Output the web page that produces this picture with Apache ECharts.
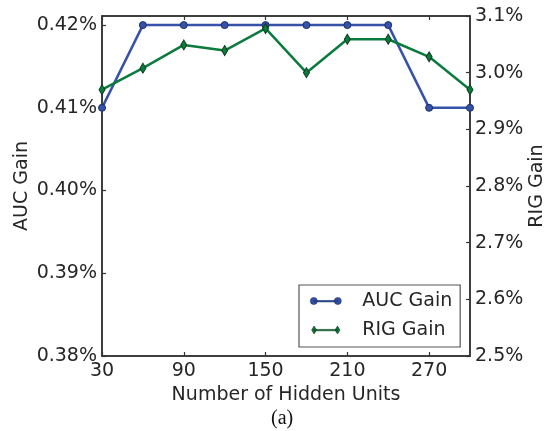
<!DOCTYPE html>
<html>
<head>
<meta charset="utf-8">
<script src="https://cdn.jsdelivr.net/npm/echarts@6/dist/echarts.min.js"></script>
<style>
  html, body { margin: 0; padding: 0; background: #fff; }
  #chart { width: 550px; height: 431px; }
</style>
</head>
<body>
<div id="chart"></div>
<script>
// Number of hidden units (x axis)
const hiddenUnits = ['30', '60', '90', '120', '150', '180', '210', '240', '270', '300'];
// AUC gain in percent (left axis)
const aucGain = [0.41, 0.42, 0.42, 0.42, 0.42, 0.42, 0.42, 0.42, 0.41, 0.41];
// RIG gain in percent (right axis)
const rigGain = [2.970, 3.008, 3.049, 3.039, 3.078, 3.000, 3.059, 3.059, 3.028, 2.970];

const FONT = 'DejaVu Sans';
const TEXT = '#262626';
const AXIS = '#333333';
const BLUE = '#3552a8';
const GREEN = '#0b7b3d';

const diamond = 'path://M0,-10 L6,0 L0,10 L-6,0 Z';
const aucIcon = 'path://M3.5,0 A3.5,3.5 0 1 1 3.49,0 Z M3.5,3 L27.5,3 L27.5,4.4 L3.5,4.4 Z M27.5,0 A3.5,3.5 0 1 1 27.49,0 Z';
const rigIcon = 'path://M3,-0.5 L5.5,3.6 L3,7.7 L0.5,3.6 Z M3,3 L27,3 L27,4.4 L3,4.4 Z M27,-0.5 L29.5,3.6 L27,7.7 L24.5,3.6 Z';

const chart = echarts.init(document.getElementById('chart'), null, { renderer: 'canvas' });

const axisLine = { show: true, lineStyle: { color: AXIS, width: 1.5 } };
const tick = (show) => ({ show: show, inside: true, length: 4, lineStyle: { color: AXIS, width: 1.2 } });

chart.setOption({
  animation: false,
  backgroundColor: '#ffffff',
  textStyle: { fontFamily: FONT },
  title: {
    text: '(a)',
    left: 266,
    top: 404,
    padding: 5,
    textStyle: { fontFamily: 'Liberation Serif', fontSize: 20, fontWeight: 'normal', color: '#111' }
  },
  grid: {
    left: 102, right: 80, top: 16, bottom: 75,
    containLabel: false,
    outerBoundsMode: 'none',
    show: true, borderColor: AXIS, borderWidth: 1.5, backgroundColor: 'transparent'
  },
  legend: {
    orient: 'vertical',
    left: 299, top: 285,
    padding: [6, 8, 7, 11],
    itemGap: 9,
    itemWidth: 31, itemHeight: 8,
    backgroundColor: '#fff',
    borderColor: '#555',
    borderWidth: 1.2,
    borderRadius: 0,
    textStyle: { fontFamily: FONT, fontSize: 19, color: TEXT, lineHeight: 20, padding: [0, 0, 0, 16] },
    data: [
      { name: 'AUC Gain', icon: aucIcon, itemStyle: { color: BLUE, borderColor: '#1e2f66', borderWidth: 0.6 } },
      { name: 'RIG Gain', icon: rigIcon, itemStyle: { color: GREEN, borderColor: '#0b3a1d', borderWidth: 0.6 } }
    ]
  },
  xAxis: [
    {
      type: 'category',
      data: hiddenUnits,
      boundaryGap: false,
      position: 'bottom',
      name: 'Number of Hidden Units',
      nameLocation: 'middle',
      nameGap: 30,
      nameMoveOverlap: false,
      nameTextStyle: { fontFamily: FONT, fontSize: 19, color: TEXT },
      axisLine: axisLine,
      axisTick: Object.assign(tick(true), { interval: 1, alignWithLabel: true }),
      axisLabel: { interval: 1, fontFamily: FONT, fontSize: 19, color: TEXT, margin: 6 },
      splitLine: { show: false }
    },
    {
      type: 'category',
      data: hiddenUnits,
      boundaryGap: false,
      position: 'top',
      axisLine: axisLine,
      axisTick: Object.assign(tick(true), { interval: 1 }),
      axisLabel: { show: false },
      splitLine: { show: false }
    }
  ],
  yAxis: [
    {
      type: 'value',
      position: 'left',
      min: 0.38, max: 0.4211, interval: 0.01,
      name: 'AUC Gain',
      nameLocation: 'middle',
      nameGap: 70,
      nameMoveOverlap: false,
      nameTextStyle: { fontFamily: FONT, fontSize: 19, color: TEXT },
      axisLine: axisLine,
      axisTick: tick(true),
      axisLabel: {
        fontFamily: FONT, fontSize: 19, color: TEXT, margin: 5,
        showMaxLabel: false,
        formatter: (v) => v.toFixed(2) + '%'
      },
      splitLine: { show: false }
    },
    {
      type: 'value',
      position: 'right',
      min: 2.5, max: 3.1, interval: 0.1,
      name: 'RIG Gain',
      nameLocation: 'middle',
      nameGap: 58,
      nameRotate: 90,
      nameMoveOverlap: false,
      nameTextStyle: { fontFamily: FONT, fontSize: 19, color: TEXT },
      axisLine: axisLine,
      axisTick: tick(true),
      axisLabel: {
        fontFamily: FONT, fontSize: 19, color: TEXT, margin: 5,
        formatter: (v) => v.toFixed(1) + '%'
      },
      splitLine: { show: false }
    }
  ],
  series: [
    {
      name: 'AUC Gain',
      type: 'line',
      xAxisIndex: 0,
      yAxisIndex: 0,
      data: aucGain,
      symbol: 'circle',
      symbolSize: 7,
      showAllSymbol: true,
      clip: false,
      lineStyle: { color: BLUE, width: 2.5 },
      itemStyle: { color: BLUE, borderColor: '#1e2f66', borderWidth: 1 },
      z: 2
    },
    {
      name: 'RIG Gain',
      type: 'line',
      xAxisIndex: 0,
      yAxisIndex: 1,
      data: rigGain,
      symbol: diamond,
      symbolSize: [6, 10],
      showAllSymbol: true,
      clip: false,
      lineStyle: { color: GREEN, width: 2.5 },
      itemStyle: { color: GREEN, borderColor: '#0b3a1d', borderWidth: 1 },
      z: 3
    }
  ]
});
</script>
</body>
</html>
